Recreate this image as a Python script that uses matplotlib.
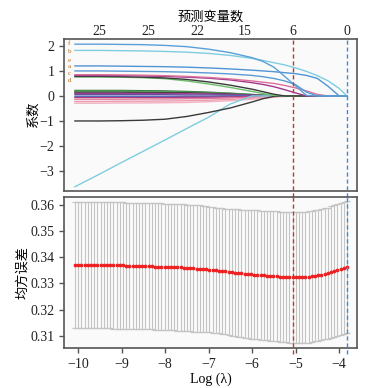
import matplotlib.pyplot as plt
import numpy as np

plt.rcParams['font.family'] = ['Liberation Serif', 'Noto Sans CJK SC']
plt.rcParams['axes.unicode_minus'] = True

# ---- coefficient paths (values read at these log(lambda) knots) ----
knots = [-10.07, -9.5, -9.0, -8.5, -8.0, -7.5, -7.0, -6.5, -6.0, -5.75,
         -5.5, -5.25, -5.0, -4.75, -4.5, -4.25, -4.0, -3.82]

coef_f  = [2.07, 2.07, 2.06, 2.05, 2.02, 1.97, 1.87, 1.73, 1.53, 1.38, 1.15, 0.78, 0.40, 0.02, 0, 0, 0, 0]
coef_b  = [1.82, 1.82, 1.81, 1.80, 1.78, 1.75, 1.70, 1.62, 1.50, 1.42, 1.33, 1.24, 1.12, 0.98, 0.81, 0.60, 0.30, 0]
coef_e  = [1.20, 1.20, 1.19, 1.18, 1.17, 1.15, 1.12, 1.08, 1.03, 1.00, 0.97, 0.93, 0.89, 0.82, 0.70, 0.38, 0, 0]
coef_a  = [1.00, 1.00, 0.99, 0.98, 0.97, 0.95, 0.92, 0.88, 0.82, 0.77, 0.70, 0.60, 0.45, 0.15, 0, 0, 0, 0]
coef_c  = [0.85, 0.85, 0.84, 0.83, 0.81, 0.78, 0.74, 0.68, 0.60, 0.55, 0.50, 0.42, 0.32, 0.20, 0.06, 0, 0, 0]
coef_c2 = [0.82, 0.82, 0.81, 0.80, 0.78, 0.75, 0.71, 0.64, 0.53, 0.46, 0.37, 0.25, 0.12, 0, 0, 0, 0, 0]
coef_d  = [0.76, 0.76, 0.75, 0.73, 0.69, 0.60, 0.48, 0.34, 0.18, 0.10, 0.02, 0, 0, 0, 0, 0, 0, 0]
coef_k  = [0.78, 0.78, 0.77, 0.75, 0.72, 0.66, 0.56, 0.43, 0.27, 0.17, 0.07, 0, 0, 0, 0, 0, 0, 0]
coef_kn = [-1.00, -1.00, -0.99, -0.97, -0.93, -0.82, -0.66, -0.48, -0.24, -0.11, -0.02, 0, 0, 0, 0, 0, 0, 0]
coef_cn = [-3.63, -3.12, -2.66, -2.21, -1.76, -1.30, -0.85, -0.32, 0, 0, 0, 0, 0, 0, 0, 0, 0, 0]
coef_g1 = [0.22, 0.22, 0.22, 0.21, 0.20, 0.18, 0.15, 0.11, 0.06, 0.03, 0.01, 0, 0, 0, 0, 0, 0, 0]
coef_g2 = [0.19, 0.19, 0.19, 0.18, 0.17, 0.15, 0.13, 0.10, 0.05, 0.03, 0.01, 0, 0, 0, 0, 0, 0, 0]
coef_k1 = [0.15, 0.15, 0.15, 0.14, 0.14, 0.13, 0.11, 0.08, 0.04, 0.02, 0, 0, 0, 0, 0, 0, 0, 0]
coef_m1 = [0.10, 0.10, 0.10, 0.10, 0.09, 0.09, 0.08, 0.06, 0.03, 0.01, 0, 0, 0, 0, 0, 0, 0, 0]
coef_p1 = [0.05, 0.05, 0.05, 0.05, 0.05, 0.04, 0.04, 0.03, 0.02, 0.01, 0, 0, 0, 0, 0, 0, 0, 0]
coef_b1 = [-0.02, -0.02, -0.02, -0.02, -0.02, -0.02, -0.02, -0.01, -0.01, 0, 0, 0, 0, 0, 0, 0, 0, 0]
coef_m2 = [-0.06, -0.06, -0.06, -0.06, -0.06, -0.05, -0.05, -0.04, -0.02, -0.01, 0, 0, 0, 0, 0, 0, 0, 0]
coef_q1 = [-0.13, -0.13, -0.13, -0.12, -0.12, -0.11, -0.10, -0.08, -0.05, -0.03, -0.01, 0, 0, 0, 0, 0, 0, 0]
coef_q2 = [-0.22, -0.22, -0.21, -0.21, -0.20, -0.19, -0.17, -0.14, -0.09, -0.06, -0.03, 0, 0, 0, 0, 0, 0, 0]
coef_q3 = [-0.29, -0.29, -0.28, -0.28, -0.27, -0.26, -0.23, -0.19, -0.13, -0.09, -0.05, -0.02, 0, 0, 0, 0, 0, 0]

paths = [
    (coef_g1, '#2f6f3a'), (coef_g2, '#5cb85c'), (coef_k1, '#444444'),
    (coef_m1, '#9e3d8f'), (coef_p1, '#6a4c9c'), (coef_b1, '#3d7cc9'),
    (coef_m2, '#b03a80'), (coef_q1, '#e07a9a'), (coef_q2, '#eb9bb0'),
    (coef_q3, '#f2b0c0'), (coef_cn, '#7fcde0'), (coef_kn, '#3a3a3a'),
    (coef_d, '#6cbf6c'), (coef_k, '#3a3a3a'), (coef_c2, '#a3378a'),
    (coef_c, '#d9709c'), (coef_a, '#5b9bd5'), (coef_e, '#4f94d4'),
    (coef_b, '#7fcde0'), (coef_f, '#5a9fd8'),
]

labels_txt = ['f', 'b', 'e', 'a', 'c', 'd']
labels_y = [2.09, 1.78, 1.42, 1.16, 0.90, 0.63]

top_ticks = [-9.52, -8.39, -7.26, -6.16, -5.06, -3.82]
top_labels = ['25', '25', '22', '15', '6', '0']

lambda_min = -5.06
lambda_1se = -3.82

# ---- cross validation curve ----
lam = np.linspace(-10.07, -3.82, 86)
cvm = [0.3371, 0.3371, 0.3371, 0.3371, 0.3371, 0.3371, 0.3371, 0.3370, 0.3370, 0.3370,
       0.3370, 0.3370, 0.3369, 0.3369, 0.3369, 0.3369, 0.3368, 0.3368, 0.3368, 0.3367,
       0.3367, 0.3367, 0.3366, 0.3366, 0.3366, 0.3365, 0.3365, 0.3365, 0.3364, 0.3364,
       0.3363, 0.3363, 0.3362, 0.3362, 0.3361, 0.3360, 0.3359, 0.3358, 0.3357, 0.3357,
       0.3356, 0.3355, 0.3353, 0.3352, 0.3350, 0.3349, 0.3347, 0.3346, 0.3344, 0.3343,
       0.3342, 0.3340, 0.3339, 0.3338, 0.3336, 0.3335, 0.3334, 0.3333, 0.3332, 0.3331,
       0.3330, 0.3329, 0.3328, 0.3327, 0.3326, 0.3326, 0.3325, 0.3324, 0.3324, 0.3323,
       0.3323, 0.3323, 0.3324, 0.3325, 0.3327, 0.3329, 0.3331, 0.3334, 0.3337, 0.3340,
       0.3344, 0.3347, 0.3351, 0.3355, 0.3359, 0.3363]
cvsd = [0.0242] * 40 + \
       [0.0240, 0.0240, 0.0240, 0.0240, 0.0240, 0.0240, 0.0241, 0.0241, 0.0242, 0.0243,
        0.0243, 0.0244, 0.0244, 0.0245, 0.0245, 0.0246, 0.0246, 0.0247, 0.0247, 0.0247,
        0.0248, 0.0248, 0.0248, 0.0249, 0.0249, 0.0249, 0.0249, 0.0250, 0.0250, 0.0250,
        0.0250, 0.0250, 0.0251, 0.0251, 0.0251, 0.0251, 0.0251, 0.0251, 0.0251, 0.0251,
        0.0252, 0.0252, 0.0252, 0.0252, 0.0252, 0.0252]

spine_col = '#555555'
fig = plt.figure(figsize=(3.79, 3.88), dpi=100)
ax1 = fig.add_axes([0.169, 0.5077, 0.773, 0.392])
ax2 = fig.add_axes([0.169, 0.1031, 0.773, 0.389])

for ax in (ax1, ax2):
    ax.set_facecolor('#fafafa')
    for s in ax.spines.values():
        s.set_color(spine_col)
        s.set_linewidth(1.2)
    ax.tick_params(colors='#222222', labelsize=10, length=3.5, width=1, direction='out')
    ax.tick_params(axis='both', color=spine_col)
    ax.set_xlim(-10.32, -3.59)

# top panel
for vals, col in paths:
    ax1.plot(knots, vals, color=col, lw=1.0)
for t, y in zip(labels_txt, labels_y):
    ax1.text(-10.2, y, t, color='#c06a10', fontsize=5, ha='center', va='center')
ax1.set_ylim(-3.8, 2.28)
ax1.set_yticks([-3, -2, -1, 0, 1, 2])
ax1.xaxis.tick_top()
ax1.set_xticks(top_ticks)
ax1.set_xticklabels(top_labels)
ax1.tick_params(axis='x', length=0, pad=0.5)
ax1.xaxis.set_label_position('top')
ax1.set_xlabel('预测变量数', fontsize=9.5, family=['Noto Sans CJK SC'], labelpad=3)
ax1.set_ylabel('系数', fontsize=9.5, family=['Noto Sans CJK SC'], labelpad=0)

# bottom panel
ax2.errorbar(lam, cvm, yerr=cvsd, fmt='o', color='#ee2020', markersize=1.7,
             ecolor='#c4c4c4', elinewidth=0.8, capsize=2.4, capthick=0.9, zorder=3)
ax2.set_ylim(0.3053, 0.3631)
ax2.set_yticks([0.31, 0.32, 0.33, 0.34, 0.35, 0.36])
ax2.set_yticklabels(['0.31', '0.32', '0.33', '0.34', '0.35', '0.36'])
ax2.set_xticks([-10, -9, -8, -7, -6, -5, -4])
ax2.set_xlabel('Log (λ)', fontsize=10, labelpad=1)
ax2.set_ylabel('均方误差', fontsize=9.5, family=['Noto Sans CJK SC'], labelpad=1)

for ax in (ax1, ax2):
    ax.axvline(lambda_min, color='#c0392b', ls=(0, (3, 2)), lw=1.0, ymin=-0.04, ymax=1.0,
               clip_on=False, zorder=4)
    ax.axvline(lambda_1se, color='#3a8ed6', ls=(0, (3, 2)), lw=1.0, ymin=-0.04, ymax=1.0,
               clip_on=False, zorder=4)

fig.savefig('out.png', dpi=100)
